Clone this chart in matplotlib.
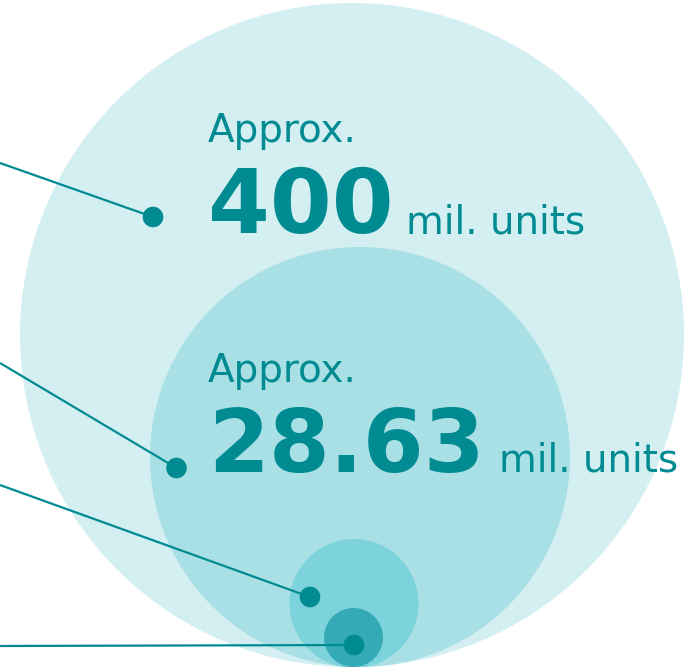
import matplotlib.pyplot as plt
from matplotlib.patches import Circle

# Figures shown in the two large circles
prefixes = ["Approx.", "Approx."]
values = ["400", "28.63"]
units = ["mil. units", "mil. units"]

# Layout in pixel coordinates (y grows downward)
W, H = 686, 667
circles = [  # (cx, cy, r, colour), largest first
    (352, 335, 332, "#D3EFF2"),
    (360, 457, 210, "#A8E0E5"),
    (354, 603.5, 64.5, "#7DD3DB"),
    (353.5, 637.5, 29.5, "#33AAB5"),
]
dots = [(153, 217), (176.5, 468), (310, 597), (354, 645)]
line_starts = [(0, 163), (0, 363), (0, 485), (0, 646)]
teal = "#008B92"

fig = plt.figure(figsize=(W / 100, H / 100), dpi=100)
ax = fig.add_axes([0, 0, 1, 1])
ax.set_xlim(0, W)
ax.set_ylim(H, 0)
ax.set_aspect("equal")
ax.axis("off")

for cx, cy, r, c in circles:
    ax.add_patch(Circle((cx, cy), r, facecolor=c, edgecolor="none", zorder=1))

# leader lines coming in from the left edge
for (x0, y0), (x1, y1) in zip(line_starts, dots):
    ax.plot([x0, x1], [y0, y1], color=teal, lw=1.6, solid_capstyle="butt", zorder=2)
    ax.add_patch(Circle((x1, y1), 10.3, facecolor=teal, edgecolor="none", zorder=3))

# text blocks
text_pos = [  # (x, prefix baseline, value baseline, unit x)
    (208, 142, 233, 406),
    (208, 382, 472, 499),
]
for (x, yb1, yb2, ux), pre, val, unit, vsize in zip(text_pos, prefixes, values, units, [64, 63]):
    ax.text(x, yb1, pre, color=teal, fontsize=28, family="DejaVu Sans",
            ha="left", va="baseline", zorder=4)
    ax.text(x, yb2, val, color=teal, fontsize=vsize, fontweight="bold",
            family="DejaVu Sans", ha="left", va="baseline", zorder=4)
    ax.text(ux, yb2, unit, color=teal, fontsize=28, family="DejaVu Sans",
            ha="left", va="baseline", zorder=4)

fig.savefig("out.png", dpi=100)
